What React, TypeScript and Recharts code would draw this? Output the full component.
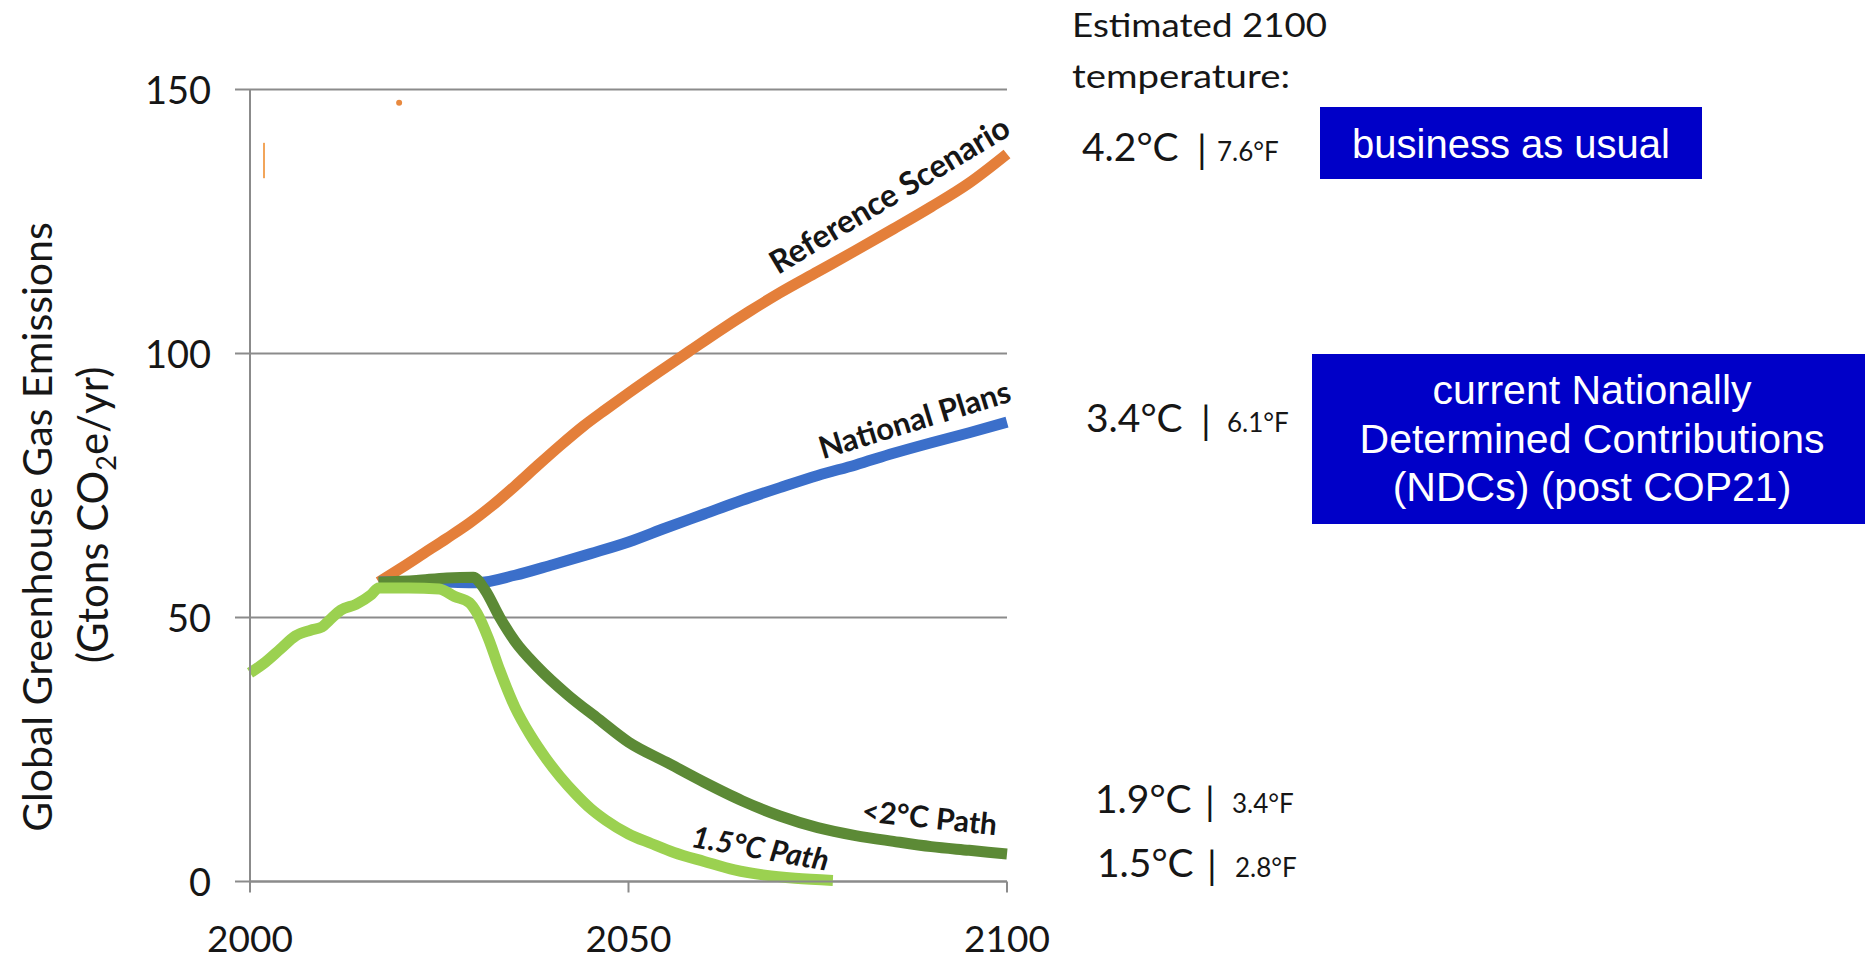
import React from 'react';
import { LineChart, Line, XAxis, YAxis, CartesianGrid, LabelList, ReferenceLine, ReferenceDot } from 'recharts';

// Emission pathways, [year, Gt CO2e per year]
const referenceScenario: [number, number][] = [
  [2017, 56.7], [2020, 59.4], [2023, 62.2], [2026, 65], [2029, 67.9], [2032, 71.2],
  [2035, 74.9], [2038, 78.8], [2041, 82.6], [2044, 86.2], [2047, 89.4], [2050, 92.5],
  [2054, 96.5], [2058, 100.4], [2062, 104.3], [2066, 108], [2070, 111.5], [2075, 115.5],
  [2080, 119.5], [2085, 123.6], [2090, 127.8], [2095, 132.3], [2100, 137.8],
];

const nationalPlans: [number, number][] = [
  [2017, 56.7], [2025, 56.7], [2030, 56.6], [2035, 58], [2040, 60], [2045, 62.1],
  [2050, 64.3], [2055, 67], [2060, 69.6], [2065, 72.2], [2070, 74.6], [2075, 76.9],
  [2080, 78.9], [2085, 81.1], [2090, 83.1], [2095, 85], [2100, 87],
];

const below2Path: [number, number][] = [
  [2017, 56.7], [2022, 57], [2026, 57.5], [2029.5, 57.6], [2031, 55.3], [2033, 50],
  [2035, 45.5], [2038, 40.6], [2042, 35.3], [2046, 30.8], [2050, 26.4], [2055, 22.6],
  [2060, 18.8], [2065, 15.3], [2070, 12.4], [2075, 10.2], [2080, 8.7], [2085, 7.6],
  [2090, 6.6], [2095, 5.9], [2100, 5.2],
];

// history up to 2017 continues into the 1.5°C path
const path15: [number, number][] = [
  [2000, 39.5], [2002, 41.5], [2004, 44], [2006, 46.5], [2008, 47.6], [2009.5, 48.2],
  [2010.5, 49.5], [2012, 51.4], [2014, 52.5], [2016, 54.3], [2017, 55.6], [2021, 55.6],
  [2025, 55.4], [2027, 54], [2029, 52.8], [2030, 50.8], [2031.5, 46], [2033, 40],
  [2035, 33], [2037, 27.8], [2039, 23.5], [2041, 19.8], [2043, 16.6], [2045, 13.8],
  [2047, 11.6], [2050, 9], [2053, 7.2], [2056, 5.5], [2060, 3.8], [2064, 2.2],
  [2068, 1.2], [2072, 0.6], [2077, 0.2],
];

const yearTicks = [2000, 2050, 2100];
const emissionTicks = [0, 50, 100, 150];

// leftover marks near the top of the plot
const strayStroke: [number, number][] = [[2001.85, 133.2], [2001.85, 139.9]];
const strayDot: [number, number] = [2019.7, 147.5];

const tempC = ['4.2°C', '3.4°C', '1.9°C', '1.5°C'];
const tempF = ['7.6°F', '6.1°F', '3.4°F', '2.8°F'];

const rowLayout = [
  { x: 1082, bar: 1202, fx: 1217, base: 161 },
  { x: 1086, bar: 1206, fx: 1227, base: 432 },
  { x: 1095, bar: 1210, fx: 1232, base: 813 },
  { x: 1097, bar: 1212, fx: 1235, base: 877 },
];

const ndcLines = ['current Nationally', 'Determined Contributions', '(NDCs) (post COP21)'];

const FONT = "Lato, 'Open Sans', sans-serif";
const BOX_FONT = "'Liberation Sans', Arial, sans-serif";
const INK = '#161616';
const AXIS = '#8b8b8b';
const STROKE = 11;

const toPoints = (s: [number, number][]) => s.map(([year, v]) => ({ year, v }));

const pathLabel = (
  series: [number, number][],
  year: number,
  text: string,
  angle: number,
  dx: number,
  dy: number,
  size = 30,
  italic = false,
) => {
  const idx = series.findIndex((p) => p[0] === year);
  return (props: any) => {
    if (props.index !== idx) return null;
    const x = props.x ?? props.viewBox?.x;
    const y = props.y ?? props.viewBox?.y;
    return (
      <text
        transform={`translate(${x},${y}) rotate(${angle}) translate(${dx},${dy})`}
        textAnchor="middle"
        fontFamily={FONT}
        fontSize={size}
        fontWeight={700}
        fontStyle={italic ? 'italic' : 'normal'}
        fill={INK}
      >
        {text}
      </text>
    );
  };
};

const XTick = (props: any) => (
  <text x={props.x} y={props.y + 59} textAnchor="middle" fontFamily={FONT} fontSize={37} fill={INK}>
    {props.payload.value}
  </text>
);

const YTick = (props: any) => (
  <text x={props.x} y={props.y + 14} textAnchor="end" fontFamily={FONT} fontSize={38} fill={INK}>
    {props.payload.value}
  </text>
);

export default function App() {
  return (
    <div style={{ position: 'absolute', left: 0, top: 0, width: 1865, height: 961, background: '#fff' }}>
      <LineChart width={1865} height={961} margin={{ top: 89.5, right: 858, bottom: 9.5, left: 150 }}>
        <CartesianGrid vertical={false} stroke={AXIS} strokeWidth={2} />
        <XAxis
          type="number"
          dataKey="year"
          domain={[2000, 2100]}
          ticks={yearTicks}
          height={70}
          tickSize={11}
          tickMargin={0}
          axisLine={{ stroke: AXIS, strokeWidth: 2 }}
          tickLine={{ stroke: AXIS, strokeWidth: 2 }}
          tick={XTick}
        />
        <YAxis
          type="number"
          domain={[0, 150]}
          ticks={emissionTicks}
          width={100}
          tickSize={15}
          tickMargin={24}
          axisLine={{ stroke: AXIS, strokeWidth: 2 }}
          tickLine={{ stroke: AXIS, strokeWidth: 2 }}
          tick={YTick}
        />

        <ReferenceLine
          segment={strayStroke.map(([x, y]) => ({ x, y }))}
          stroke="#f2a55a"
          strokeWidth={2}
        />
        <ReferenceDot x={strayDot[0]} y={strayDot[1]} r={3} fill="#e8893f" stroke="none" />

        <Line
          type="monotone"
          data={toPoints(referenceScenario)}
          dataKey="v"
          stroke="#e47f3a"
          strokeWidth={STROKE}
          strokeLinejoin="round"
          dot={false}
          isAnimationActive={false}
        >
          <LabelList content={pathLabel(referenceScenario, 2085, 'Reference Scenario', -31, 14, -20, 32)} />
        </Line>
        <Line
          type="monotone"
          data={toPoints(nationalPlans)}
          dataKey="v"
          stroke="#3b6fca"
          strokeWidth={STROKE}
          strokeLinejoin="round"
          dot={false}
          isAnimationActive={false}
        >
          <LabelList content={pathLabel(nationalPlans, 2085, 'National Plans', -17, 30, -15, 31)} />
        </Line>
        <Line
          type="monotone"
          data={toPoints(below2Path)}
          dataKey="v"
          stroke="#5c8a36"
          strokeWidth={STROKE}
          strokeLinejoin="round"
          dot={false}
          isAnimationActive={false}
        >
          <LabelList content={pathLabel(below2Path, 2090, '<2°C Path', 6, -4.8, -18)} />
        </Line>
        <Line
          type="monotone"
          data={toPoints(path15)}
          dataKey="v"
          stroke="#9bd150"
          strokeWidth={STROKE}
          strokeLinejoin="round"
          dot={false}
          isAnimationActive={false}
        >
          <LabelList content={pathLabel(path15, 2068, '1.5°C Path', 10, -9, -15, 30, true)} />
        </Line>
      </LineChart>

      <svg
        width={1865}
        height={961}
        style={{ position: 'absolute', left: 0, top: 0, pointerEvents: 'none' }}
      >
        {/* axis title */}
        <text transform="translate(52,527) rotate(-90)" textAnchor="middle" fontFamily={FONT} fontSize={41} fill={INK}>
          Global Greenhouse Gas Emissions
        </text>
        <text transform="translate(108,515) rotate(-90)" textAnchor="middle" fontFamily={FONT} fontSize={42} fill={INK}>
          (Gtons CO
          <tspan fontSize={27} dy={8}>2</tspan>
          <tspan dy={-8}>e/yr)</tspan>
        </text>

        {/* 2100 temperature column */}
        <text x={1072} y={37} fontFamily={FONT} fontSize={32} fill={INK} textLength={255} lengthAdjust="spacingAndGlyphs">
          Estimated 2100
        </text>
        <text x={1072} y={88} fontFamily={FONT} fontSize={32} fill={INK} textLength={218} lengthAdjust="spacingAndGlyphs">
          temperature:
        </text>
        {rowLayout.map((r, i) => (
          <g key={tempC[i]} fontFamily={FONT} fill={INK}>
            <text x={r.x} y={r.base} fontSize={39}>{tempC[i]}</text>
            <text x={r.bar} y={r.base + 2} fontSize={39} textAnchor="middle">|</text>
            <text x={r.fx} y={r.base} fontSize={26}>{tempF[i]}</text>
          </g>
        ))}

        {/* scenario boxes */}
        <rect x={1320} y={107} width={382} height={72} fill="#0000c8" />
        <text x={1511} y={158} textAnchor="middle" fontFamily={BOX_FONT} fontSize={40} fill="#fff">
          business as usual
        </text>
        <rect x={1312} y={354} width={553} height={170} fill="#0000c8" />
        {ndcLines.map((t, i) => (
          <text key={t} x={1592} y={404 + i * 48.5} textAnchor="middle" fontFamily={BOX_FONT} fontSize={41} fill="#fff">
            {t}
          </text>
        ))}
      </svg>
    </div>
  );
}
